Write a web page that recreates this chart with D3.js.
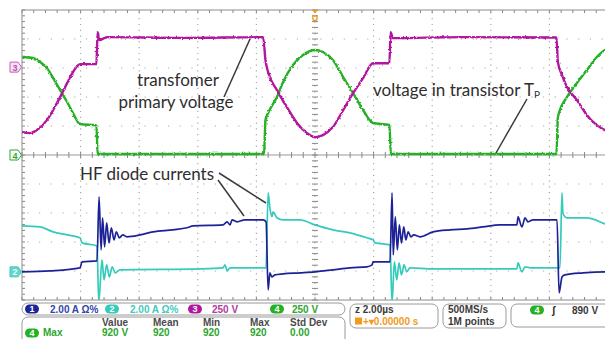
<!DOCTYPE html>
<html>
<head>
<meta charset="utf-8">
<script src="https://cdn.jsdelivr.net/npm/d3@7"></script>
<style>
    body { margin: 0; background: #fff; }
    svg { display: block; }
    .note { font-family: Lato, "Open Sans", sans-serif; font-size: 17px; fill: #2e2e2e; }
    .stat { font-family: "Liberation Sans", Arial, sans-serif; font-size: 10px; font-weight: bold; }
</style>
</head>
<body>
<svg id="scope" width="605" height="339"></svg>
<script>
// time in microseconds (trigger at 0), values in channel units

// channel 4 : voltage in transistor Tp (V)
var ch4Volt = [
    [-10, 845], [-9.62, 836], [-9.39, 802], [-9.15, 750], [-8.94, 664], [-8.70, 560],
    [-8.46, 457], [-8.26, 362], [-8.02, 267], [-7.46, 255], [-7.42, 8], [-4.5, 8],
    [-1.74, 8], [-1.69, 302], [-1.60, 362], [-1.30, 500], [-1.09, 629], [-0.75, 776],
    [-0.41, 862], [0, 905], [0.27, 888], [0.61, 819], [0.96, 672], [1.30, 534],
    [1.64, 388], [1.98, 276], [2.54, 259], [2.59, 8], [5.5, 8], [8.24, 8], [8.29, 328],
    [8.60, 500], [8.94, 621], [9.28, 733], [9.62, 845], [9.90, 905], [10, 915]
];

// channel 3 : transformer primary voltage (V)
var ch3Volt = [
    [-10, -560], [-9.73, -569], [-9.49, -543], [-9.15, -457], [-8.94, -371], [-8.70, -259],
    [-8.46, -138], [-8.26, -43], [-8.02, 26], [-7.46, 26], [-7.42, 302], [-7.36, 233],
    [-7.10, 259], [-4.5, 252], [-1.77, 259], [-1.69, 60], [-1.60, -43], [-1.30, -198],
    [-0.96, -345], [-0.61, -483], [-0.27, -569], [0, -603], [0.27, -586], [0.61, -517],
    [0.96, -371], [1.30, -224], [1.64, -95], [1.98, 34], [2.54, 34], [2.58, 302],
    [2.66, 250], [5, 259], [8.24, 255], [8.29, 43], [8.43, -69], [8.60, -172],
    [8.94, -284], [9.28, -414], [9.62, -500], [9.90, -543], [10, -550]
];

// channel 1 : HF diode current (A)
var ch1Amp = [
    [-10, 0], [-9.04, 0.07], [-8.02, 0.28], [-7.95, 0.69], [-7.44, 0.76], [-7.37, 5.18],
    [-7.30, 1.52], [-7.25, 3.73], [-7.18, 1.73], [-7.11, 3.38], [-7.03, 2.0], [-6.95, 3.04],
    [-6.86, 2.21], [-6.78, 2.76], [-6.68, 2.35], [-6.56, 2.55], [-6.42, 2.42], [-5.97, 2.55],
    [-5.53, 2.76], [-4.85, 2.9], [-4.37, 3.04], [-4.16, 3.17], [-3.14, 3.24], [-3.0, 3.45],
    [-2.90, 3.24], [-2.83, 3.59], [-2.66, 3.45], [-2.39, 3.59], [-1.77, 3.59], [-1.67, 3.45],
    [-1.60, -1.24], [-1.54, -0.07], [-1.47, -0.35], [-1.37, -0.21], [-1.09, -0.14],
    [-0.51, -0.07], [0, 0], [0.61, 0.14], [1.19, 0.28], [1.77, 0.35], [1.95, 0.48],
    [1.98, 0.69], [2.56, 0.69], [2.63, 5.45], [2.67, 1.17], [2.74, 3.8], [2.81, 1.52],
    [2.88, 3.24], [2.95, 2.0], [3.03, 3.1], [3.10, 2.21], [3.18, 2.76], [3.27, 2.42],
    [3.37, 2.55], [3.58, 2.42], [4.03, 2.76], [4.61, 2.9], [5.19, 2.97], [5.73, 3.1],
    [6.31, 3.24], [6.89, 3.24], [6.93, 3.8], [7.06, 3.1], [7.17, 3.73], [7.27, 3.45],
    [7.44, 3.59], [8.26, 3.59], [8.33, -1.45], [8.43, -0.35], [8.53, -0.21], [9.15, -0.07],
    [9.90, 0], [10, 0]
];

// channel 2 : HF diode current (A)
var ch2Amp = [
    [-10, 3.17], [-9.39, 3.1], [-8.94, 2.76], [-8.46, 2.55], [-8.02, 2.35], [-7.95, 2.0],
    [-7.44, 1.79], [-7.38, -2.1], [-7.27, 0.83], [-7.20, -0.55], [-7.11, 0.48], [-7.02, -0.35],
    [-6.92, 0.35], [-6.82, -0.07], [-6.66, 0.14], [-3.92, 0.21], [-3.14, 0.28], [-3.07, 0.48],
    [-3.0, 0.07], [-2.90, 0.28], [-1.77, 0.28], [-1.67, 0.28], [-1.60, 5.45], [-1.54, 4.42],
    [-1.47, 3.8], [-1.43, 4.14], [-1.30, 3.73], [-1.09, 3.59], [-0.51, 3.59], [0, 3.24],
    [0.61, 2.9], [1.19, 2.69], [1.77, 2.35], [1.98, 2.21], [2.05, 2.0], [2.56, 1.86],
    [2.63, -2.1], [2.71, 0.69], [2.79, -0.55], [2.87, 0.62], [2.95, -0.21], [3.04, 0.48],
    [3.13, 0], [3.24, 0.28], [4.03, 0.21], [6.89, 0.21], [6.93, 0.62], [7.06, 0],
    [7.17, 0.35], [7.34, 0.28], [8.26, 0.28], [8.36, 0.28], [8.43, 5.45], [8.46, 4.07],
    [8.53, 3.8], [8.60, 3.73], [9.28, 3.73], [9.90, 3.31], [10, 3.24]
];

var chNames = ['1', '2', '3', '4'];
var chColors = ['#1c2496', '#35cbbb', '#b3169e', '#25b025'];
var chScales = [2, 2, 250, 250];          // units per division
var chOffsets = [-4.03, -4.03, 3.03, 0];  // ground level, divisions from centre
var chLabels = ['2.00 A  \u03A9%', '2.00 A  \u03A9%', '250 V', '250 V'];

var measHeaders = ['Value', 'Mean', 'Min', 'Max', 'Std Dev'];
var measValues = ['920 V', '920', '920', '920', '0.00'];
var timebase = ['2.00\u00B5s', '0.00000 s'];
var acquisition = ['500MS/s', '1M points'];
var triggerLevel = '890 V';

var svg = d3.select('#scope');
var x = d3.scaleLinear().domain([-10, 10]).range([22, 608]);
var xDiv = d3.scaleLinear().domain([0, 10]).range([22, 608]);
var yDiv = d3.scaleLinear().domain([-5, 5]).range([300, 10]);

var defs = svg.append('defs');
defs.append('clipPath').attr('id', 'screen')
    .append('rect').attr('x', 22).attr('y', 10).attr('width', 586).attr('height', 290);

// trace noise look (rendering only, data stays as read)
function jitter(id, amount) {
    var f = defs.append('filter').attr('id', id)
        .attr('filterUnits', 'userSpaceOnUse')
        .attr('x', 0).attr('y', 0).attr('width', 605).attr('height', 339);
    f.append('feTurbulence').attr('type', 'fractalNoise')
        .attr('baseFrequency', 0.45).attr('numOctaves', 1).attr('seed', 4).attr('result', 'n');
    f.append('feDisplacementMap').attr('in', 'SourceGraphic').attr('in2', 'n')
        .attr('scale', amount).attr('xChannelSelector', 'R').attr('yChannelSelector', 'G');
}
jitter('jitV', 3);
jitter('jitA', 1.2);

// graticule
var grid = svg.append('g');
d3.range(1, 10).filter(function (i) { return i != 5; }).forEach(function (i) {
    grid.append('line')
        .attr('x1', xDiv(i)).attr('x2', xDiv(i)).attr('y1', 10).attr('y2', 300)
        .attr('stroke', '#aaa').attr('stroke-width', 1.2)
        .attr('stroke-dasharray', '1.2,4.6').attr('stroke-dashoffset', -2.3);
});
d3.range(-4, 5).filter(function (j) { return j != 0; }).forEach(function (j) {
    grid.append('line')
        .attr('x1', 22).attr('x2', 608).attr('y1', yDiv(j)).attr('y2', yDiv(j))
        .attr('stroke', '#aaa').attr('stroke-width', 1.2)
        .attr('stroke-dasharray', '1.2,10.52').attr('stroke-dashoffset', -5.3);
});
grid.append('line').attr('x1', 22).attr('x2', 608).attr('y1', yDiv(0)).attr('y2', yDiv(0))
    .attr('stroke', '#999').attr('stroke-width', 1);
grid.append('line').attr('x1', xDiv(5)).attr('x2', xDiv(5)).attr('y1', 10).attr('y2', 300)
    .attr('stroke', '#aaa').attr('stroke-width', 1.2).attr('stroke-dasharray', '1.2,4.6');

var minorX = d3.range(0, 50.5, 1).map(function (k) { return xDiv(k / 5); });
var minorY = d3.range(-25, 25.5, 1).map(function (k) { return yDiv(k / 5); });
minorX.forEach(function (px) {
    [[10, 13], [297, 300], [152, 158]].forEach(function (s) {
        grid.append('line').attr('x1', px).attr('x2', px).attr('y1', s[0]).attr('y2', s[1])
            .attr('stroke', '#888').attr('stroke-width', 1);
    });
});
minorY.forEach(function (py) {
    [[22, 25], [312, 318]].forEach(function (s) {
        grid.append('line').attr('x1', s[0]).attr('x2', s[1]).attr('y1', py).attr('y2', py)
            .attr('stroke', '#888').attr('stroke-width', 1);
    });
});
grid.append('rect').attr('x', 22).attr('y', 10).attr('width', 590).attr('height', 290)
    .attr('fill', 'none').attr('stroke', '#8c8c8c').attr('stroke-width', 1);

// traces
var traces = svg.append('g').attr('clip-path', 'url(#screen)');
var series = [ch4Volt, ch3Volt, ch2Amp, ch1Amp];
var seriesCh = [3, 2, 1, 0];
series.forEach(function (data, k) {
    var ch = seriesCh[k];
    var line = d3.line()
        .x(function (d) { return x(d[0]); })
        .y(function (d) { return yDiv(d[1] / chScales[ch] + chOffsets[ch]); })
        .curve(d3.curveMonotoneX);
    traces.append('g').attr('filter', ch >= 2 ? 'url(#jitV)' : 'url(#jitA)')
        .append('path')
        .datum(data)
        .attr('d', line)
        .attr('fill', 'none')
        .attr('stroke', chColors[ch])
        .attr('stroke-width', ch >= 2 ? 2.4 : 1.7)
        .attr('stroke-linejoin', 'round');
});

// ground markers on the left
var markers = [
    { ch: 2, fill: '#f7e4f3', stroke: '#c45cb4', text: '#c04cb0' },
    { ch: 3, fill: '#ffffff', stroke: '#2fa52f', text: '#2fa52f' },
    { ch: 1, fill: '#5fd8cb', stroke: '#48c8ba', text: '#e8fffb' }
];
markers.forEach(function (m) {
    var py = yDiv(chOffsets[m.ch]);
    svg.append('path')
        .attr('d', 'M10,' + (py - 5) + 'H18L21.5,' + py + 'L18,' + (py + 5) + 'H10Z')
        .attr('fill', m.fill).attr('stroke', m.stroke).attr('stroke-width', 1);
    svg.append('text').attr('x', 15).attr('y', py + 3.5)
        .attr('text-anchor', 'middle').attr('class', 'stat').style('font-size', '9px')
        .attr('fill', m.text).text(chNames[m.ch]);
});

// trigger position marker
var tx = x(0);
svg.append('path').attr('d', 'M' + (tx - 3.5) + ',10H' + (tx + 3.5) + 'L' + tx + ',13Z').attr('fill', '#f29a1c');
svg.append('text').attr('x', tx).attr('y', 21).attr('text-anchor', 'middle')
    .attr('class', 'stat').style('font-size', '9px').attr('fill', '#f29a1c').text('U');

// annotations
var notes = svg.append('g').attr('class', 'note');
notes.append('text').attr('x', 178).attr('y', 86).attr('text-anchor', 'middle').text('transfomer');
notes.append('text').attr('x', 176).attr('y', 108).attr('text-anchor', 'middle').text('primary voltage');
var tp = notes.append('text').attr('x', 373).attr('y', 96).text('voltage in transistor T');
tp.append('tspan').attr('dy', 2).style('font-size', '10px').text('P');
notes.append('text').attr('x', 80).attr('y', 180).text('HF diode currents');

var leaders = [
    [224, 97, 250, 39],
    [527, 99, 496, 153],
    [218, 180, 244, 216],
    [219, 173, 266, 203]
];
leaders.forEach(function (l) {
    svg.append('line').attr('x1', l[0]).attr('y1', l[1]).attr('x2', l[2]).attr('y2', l[3])
        .attr('stroke', '#3a3a3a').attr('stroke-width', 1.5);
});

// status bar
var bar = svg.append('g');
function box(bx, by, bw, bh) {
    bar.append('rect').attr('x', bx).attr('y', by).attr('width', bw).attr('height', bh)
        .attr('rx', 6).attr('fill', 'none').attr('stroke', '#9a9a9a').attr('stroke-width', 1);
}
function badge(bx, cy, color, label) {
    bar.append('rect').attr('x', bx).attr('y', cy - 4.5).attr('width', 14).attr('height', 9)
        .attr('rx', 4.5).attr('fill', color);
    bar.append('text').attr('x', bx + 7).attr('y', cy + 3.3).attr('text-anchor', 'middle')
        .attr('class', 'stat').style('font-size', '9px').attr('fill', '#fff').text(label);
}
function label(lx, ly, color, str) {
    return bar.append('text').attr('x', lx).attr('y', ly).attr('class', 'stat')
        .attr('fill', color).text(str);
}

box(22, 303, 323, 12);
var badgeX = [25, 105, 188, 270];
var labelX = [50, 130, 212, 292];
var labelColors = ['#3444ad', '#44cabe', '#b23aa2', '#2ea52e'];
chNames.forEach(function (n, i) {
    badge(badgeX[i], 309, chColors[i], n);
    label(labelX[i], 313, labelColors[i], chLabels[i]);
});

box(22, 317, 323, 30);
var measX = [102, 153, 203, 250, 290];
measHeaders.forEach(function (h, i) { label(measX[i], 326, '#4a4a4a', h); });
measValues.forEach(function (v, i) { label(measX[i], 336, '#2ea52e', v); });
badge(25, 333, chColors[3], '4');
label(43, 336, '#2ea52e', 'Max');

box(350, 304, 88, 24);
label(355, 313, '#3a3a3a', 'z ' + timebase[0]);
bar.append('rect').attr('x', 355).attr('y', 317.5).attr('width', 7).attr('height', 7).attr('fill', '#f29a1c');
label(363, 325, '#f29a1c', '+\u25BE' + timebase[1]);

box(443, 304, 63, 24);
label(448, 313, '#3a3a3a', acquisition[0]);
label(448, 325, '#3a3a3a', acquisition[1]);

box(511, 304, 100, 23);
badge(530, 310, chColors[3], '4');
label(552, 314, '#222', '\u0283');
label(572, 314, '#3a3a3a', triggerLevel);
</script>
</body>
</html>
